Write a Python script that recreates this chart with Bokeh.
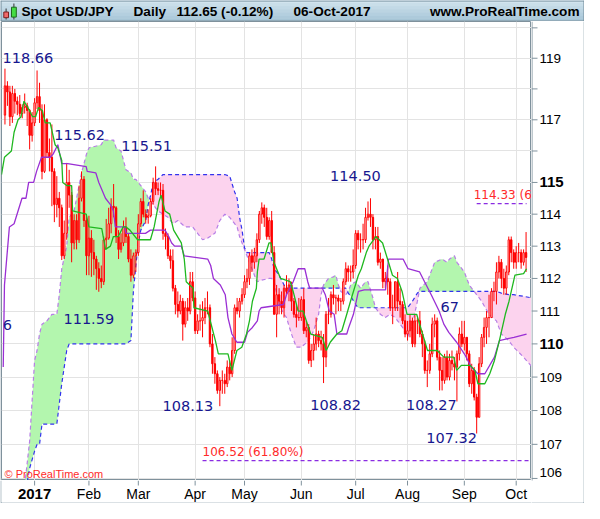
import numpy as np
from bokeh.plotting import figure
from bokeh.layouts import column, row
from bokeh.models import Range1d, FixedTicker, Label
from bokeh.embed import file_html
from bokeh.resources import INLINE
from bokeh.core.properties import value

# ---------------- data (day index 0 = 2-Jan-2017, trading days) ----------------
FIRST_DAY = -12   # first candle = 15-Dec-2016

opens = [
    # Dec 2016
    117.15, 118.10, 117.90, 117.10, 117.85, 117.60, 117.50, 117.20, 117.40, 117.45, 117.30, 116.50,
    # Jan
    116.90, 117.55, 117.75, 117.30, 115.35, 117.00, 115.95, 115.80, 115.35, 114.30, 114.50, 114.20,
    112.70, 113.40, 115.00, 114.60, 113.10, 113.80, 113.20, 114.50, 115.10, 113.80,
    # Feb
    112.70, 113.25, 112.80, 112.60, 112.30, 112.00, 111.90, 113.20, 113.25, 113.70, 114.25, 114.20,
    113.30, 112.90, 113.10, 113.60, 113.30, 112.60, 112.10, 112.70,
    # Mar
    112.80, 113.70, 114.40, 114.00, 113.90, 113.95, 114.40, 115.00, 114.80, 114.75, 114.75, 113.40,
    113.30, 112.70, 112.55, 111.70, 111.20, 111.00, 111.30, 110.60, 111.10, 111.00, 111.90,
    # Apr
    111.40, 110.40, 110.70, 110.70, 110.80, 111.10, 111.10, 110.00, 109.40, 109.10, 108.60, 108.90,
    108.90, 108.80, 109.30, 109.10, 109.80, 111.10, 111.00, 111.30,
    # May
    111.50, 111.90, 112.00, 112.70, 112.50, 112.70, 113.20, 114.00, 114.20, 113.90, 113.30, 113.80,
    112.80, 110.90, 111.50, 111.30, 111.10, 111.70, 111.60, 111.80, 111.30, 110.90, 110.80,
    # Jun
    110.80, 111.35, 110.40, 110.50, 109.50, 109.80, 110.00, 110.30, 110.10, 110.00, 109.60, 110.90,
    110.90, 111.50, 111.40, 111.40, 111.30, 111.30, 111.90, 112.30, 112.20, 112.20,
    # Jul
    112.40, 113.40, 113.20, 113.20, 113.20, 113.90, 114.00, 113.90, 113.20, 113.30, 112.50, 112.60,
    111.90, 112.00, 111.90, 111.10, 111.10, 111.90, 111.30, 111.20, 110.70,
    # Aug
    110.30, 110.40, 110.70, 110.00, 110.70, 110.70, 110.30, 110.00, 109.20, 109.20, 109.70, 110.60,
    110.70, 109.60, 109.20, 108.90, 109.60, 109.00, 109.50, 109.40, 109.30, 109.70, 110.30,
    # Sep
    110.00, 110.20, 109.70, 108.80, 109.20, 108.40, 107.80, 109.40, 110.20, 110.50, 110.80, 110.80,
    111.60, 111.60, 112.20, 112.50, 112.00, 111.70, 112.20, 113.20, 112.80,
    # Oct
    112.50, 112.80, 112.80, 112.50, 112.80,
]
highs = [
    118.66, 118.25, 118.10, 118.10, 118.00, 117.75, 117.80, 117.50, 117.85, 117.55, 117.35, 117.25,
    117.70, 118.60, 118.20, 117.50, 117.50, 117.05, 116.40, 116.85, 115.45, 115.20, 114.70, 114.30,
    113.80, 115.62, 115.40, 114.70, 114.00, 114.00, 114.90, 115.35, 115.20, 114.00,
    113.95, 113.50, 113.20, 112.70, 112.50, 112.40, 113.30, 113.85, 114.20, 114.50, 114.95, 114.25,
    113.50, 113.40, 113.80, 113.90, 113.40, 112.90, 112.80, 112.90,
    114.00, 114.50, 114.75, 114.15, 114.15, 114.50, 115.15, 115.51, 115.00, 115.00, 114.95, 113.55,
    113.40, 112.90, 112.90, 111.80, 111.60, 111.50, 111.40, 111.30, 111.40, 112.20, 112.20,
    111.60, 110.90, 111.20, 111.30, 111.40, 111.60, 111.20, 110.30, 109.60, 109.20, 109.00, 109.20,
    109.10, 109.50, 109.50, 110.20, 111.20, 111.40, 111.40, 111.70,
    112.10, 112.30, 112.80, 112.90, 112.95, 113.40, 114.10, 114.37, 114.30, 114.20, 113.90, 114.10,
    113.00, 111.80, 111.70, 111.60, 111.80, 112.10, 112.00, 111.90, 111.40, 111.20, 111.40,
    111.45, 111.70, 110.70, 110.60, 110.00, 110.30, 110.80, 110.40, 110.40, 110.30, 111.00, 111.40,
    111.60, 111.80, 111.50, 111.50, 111.40, 112.00, 112.50, 112.40, 112.40, 112.90,
    113.50, 113.50, 113.40, 113.70, 114.20, 114.40, 114.50, 114.00, 113.60, 113.60, 112.80, 112.60,
    112.20, 112.40, 112.00, 111.50, 111.90, 112.20, 111.70, 111.30, 110.90,
    110.70, 110.90, 110.80, 110.90, 110.80, 111.00, 110.40, 110.10, 109.50, 110.00, 110.80, 110.90,
    110.80, 109.80, 109.60, 109.70, 109.80, 109.70, 109.80, 109.60, 109.80, 110.50, 110.70,
    110.70, 110.20, 109.80, 109.40, 109.30, 108.50, 109.60, 110.30, 110.80, 111.00, 111.50, 111.70,
    111.90, 112.50, 112.70, 112.60, 112.30, 112.40, 113.30, 113.30, 112.90,
    113.00, 113.10, 112.90, 112.90, 113.44,
]
lows = [
    116.85, 117.45, 116.80, 116.90, 117.20, 117.15, 117.10, 117.05, 117.20, 116.80, 116.05, 116.30,
    116.80, 117.35, 116.90, 115.10, 115.30, 115.80, 115.35, 114.25, 113.75, 113.90, 113.60, 112.57,
    112.60, 113.20, 114.20, 112.50, 112.90, 112.90, 113.10, 114.40, 113.60, 112.10,
    112.10, 112.05, 112.10, 111.65, 111.59, 111.70, 111.80, 112.90, 113.20, 113.40, 113.90, 113.10,
    112.60, 112.80, 113.00, 113.10, 112.50, 111.90, 112.00, 112.20,
    112.70, 113.60, 113.90, 113.70, 113.70, 113.90, 114.30, 114.60, 114.60, 114.50, 113.20, 112.90,
    112.60, 112.30, 111.60, 110.90, 110.80, 110.90, 110.10, 110.50, 110.70, 110.90, 111.30,
    110.30, 110.30, 110.40, 110.20, 110.60, 110.90, 109.90, 109.10, 108.80, 108.50, 108.13, 108.50,
    108.50, 108.70, 108.90, 109.00, 109.70, 110.90, 110.80, 111.20,
    111.40, 111.70, 111.80, 112.20, 112.30, 112.50, 113.10, 113.70, 113.60, 113.20, 113.20, 112.80,
    110.90, 110.20, 110.90, 110.90, 110.80, 111.50, 111.30, 111.00, 110.80, 110.50, 110.70,
    110.70, 110.30, 110.20, 109.40, 109.30, 109.50, 109.80, 109.90, 109.80, 108.82, 109.30, 110.60,
    110.80, 111.20, 110.90, 111.00, 111.00, 111.20, 111.80, 111.90, 111.90, 112.00,
    112.30, 112.90, 112.80, 112.90, 113.10, 113.80, 113.60, 112.90, 112.90, 112.40, 112.30, 111.70,
    111.70, 111.50, 111.00, 110.60, 111.00, 111.00, 110.80, 110.60, 110.20,
    110.10, 110.20, 109.90, 109.90, 110.30, 110.20, 109.60, 109.10, 108.70, 109.10, 109.60, 110.20,
    109.50, 108.60, 108.60, 108.80, 108.90, 108.90, 109.20, 108.90, 108.27, 109.50, 109.90,
    109.80, 109.50, 108.70, 108.50, 108.30, 107.32, 107.80, 109.30, 109.90, 110.00, 110.20, 110.80,
    111.30, 111.20, 112.00, 111.70, 111.50, 111.50, 112.10, 112.50, 112.30,
    112.30, 112.50, 112.30, 112.40, 112.20,
]
closes = [
    118.10, 117.90, 117.10, 117.85, 117.60, 117.50, 117.20, 117.40, 117.45, 117.30, 116.50, 116.90,
    117.55, 117.75, 117.30, 115.35, 117.00, 115.95, 115.80, 115.35, 114.30, 114.50, 114.20, 112.70,
    113.40, 115.00, 114.60, 113.10, 113.80, 113.20, 114.50, 115.10, 113.80, 112.70,
    113.25, 112.80, 112.60, 112.30, 112.00, 111.90, 113.20, 113.25, 113.70, 114.25, 114.20, 113.30,
    112.90, 113.10, 113.60, 113.30, 112.60, 112.10, 112.70, 112.80,
    113.70, 114.40, 114.00, 113.90, 113.95, 114.40, 115.00, 114.80, 114.75, 114.75, 113.40, 113.30,
    112.70, 112.55, 111.70, 111.20, 111.00, 111.30, 110.60, 111.10, 111.00, 111.90, 111.40,
    110.40, 110.70, 110.70, 110.80, 111.10, 111.10, 110.00, 109.40, 109.10, 108.60, 108.90, 108.90,
    108.80, 109.30, 109.10, 109.80, 111.10, 111.00, 111.30, 111.50,
    111.90, 112.00, 112.70, 112.50, 112.70, 113.20, 114.00, 114.20, 113.90, 113.30, 113.80, 112.80,
    110.90, 111.50, 111.30, 111.10, 111.70, 111.60, 111.80, 111.30, 110.90, 110.80, 110.80,
    111.35, 110.40, 110.50, 109.50, 109.80, 110.00, 110.30, 110.10, 110.00, 109.60, 110.90, 110.90,
    111.50, 111.40, 111.40, 111.30, 111.30, 111.90, 112.30, 112.20, 112.20, 112.40,
    113.40, 113.20, 113.20, 113.20, 113.90, 114.00, 113.90, 113.20, 113.30, 112.50, 112.60, 111.90,
    112.00, 111.90, 111.10, 111.10, 111.90, 111.30, 111.20, 110.70, 110.30,
    110.40, 110.70, 110.00, 110.70, 110.70, 110.30, 110.00, 109.20, 109.20, 109.70, 110.60, 110.70,
    109.60, 109.20, 108.90, 109.60, 109.00, 109.50, 109.40, 109.30, 109.70, 110.30, 110.00,
    110.20, 109.70, 108.80, 109.20, 108.40, 107.80, 109.40, 110.20, 110.50, 110.80, 110.80, 111.60,
    111.60, 112.20, 112.50, 112.00, 111.70, 112.20, 113.20, 112.80, 112.50,
    112.80, 112.80, 112.50, 112.80, 112.65,
]

# Tenkan-sen (green)
tenkan_day = [-13.4, -12.2, -9.4, -8.3, -6.7, -5.5, -4.3, -2.8, -0.8, 0.4, 1.6, 3.1, 4.3, 6.3, 8.3, 9.4,
              11.0, 11.4, 13.0, 15.0, 15.4, 20.9, 22.0, 27.2, 28.7, 30.7, 31.9, 33.9, 35.8, 37.0, 38.6,
              41.7, 44.9, 46.9, 48.4, 50.4, 51.2, 52.8, 54.7, 56.3, 59.4, 60.6, 61.4, 64.2, 64.5, 70.1,
              71.3, 73.2, 74.4, 78.3, 79.9, 81.9, 83.9, 85.8, 87.0, 88.2, 89.8, 90.2, 90.9, 92.9, 94.9,
              95.7, 96.9, 99.6, 103.5, 104.7, 106.7, 108.7, 111.8, 116.5, 118.1, 119.7, 122.4, 124.4,
              126.4, 128.3, 131.1, 132.3, 134.3, 135.4, 138.2, 140.9, 142.9, 144.9, 146.9, 148.8, 150.8,
              154.7, 156.7, 159.1, 163.0, 165.7, 169.7, 170.9, 172.8, 176.4, 178.3, 179.5, 182.3, 184.3,
              186.2, 188.2, 190.6, 192.1, 194.5, 198.0, 199.2]
tenkan_val = [115.25, 115.8, 116.0, 116.6, 117.0, 117.1, 117.6, 117.4, 117.1, 117.1, 117.4, 117.3, 116.9,
              116.9, 116.2, 116.1, 115.7, 115.0, 114.9, 114.9, 114.1, 114.0, 113.6, 113.55, 112.9, 113.0,
              113.3, 113.3, 113.6, 113.6, 113.5, 113.2, 113.2, 113.2, 113.6, 114.4, 114.6, 114.1, 114.0,
              113.5, 113.1, 112.6, 111.9, 111.7, 111.1, 111.0, 110.65, 110.1, 109.7, 109.7, 109.2, 109.8,
              109.9, 110.3, 110.7, 111.3, 111.7, 112.2, 112.6, 112.6, 113.1, 113.1, 112.5, 112.0, 111.9,
              111.6, 111.0, 111.0, 110.3, 110.2, 109.8, 110.05, 110.3, 110.4, 110.9, 111.4, 112.1, 112.3,
              112.8, 113.0, 113.3, 113.1, 112.6, 112.1, 112.0, 111.6, 110.9, 110.9, 110.4, 109.8, 109.8,
              109.6, 109.6, 109.2, 109.35, 109.35, 109.2, 108.8, 108.8, 109.1, 109.5, 110.1, 110.9, 111.3,
              112.1, 112.15, 112.3]

# Kijun-sen (purple)
kijun_day = [-12.7, -12.2, -10.2, -8.3, -6.7, -5.1, -3.5, -2.4, -0.4, 0.8, 2.8, 6.3, 7.5, 9.4, 11.0, 13.4,
             20.9, 21.3, 24.8, 26.0, 28.7, 30.7, 31.9, 32.7, 36.6, 37.0, 44.9, 46.9, 52.8, 54.3, 55.5,
             56.7, 59.4, 60.6, 70.1, 71.3, 72.4, 75.2, 77.2, 78.3, 79.9, 81.9, 85.0, 86.2, 88.2, 90.2,
             90.9, 91.7, 100.8, 102.0, 104.7, 106.7, 109.4, 110.6, 111.4, 116.5, 117.7, 119.3, 121.3,
             122.4, 126.4, 127.2, 129.1, 131.1, 133.5, 142.1, 143.3, 149.2, 151.2, 155.9, 157.9, 160.6,
             163.8, 165.7, 167.7, 170.9, 174.4, 176.8, 179.5, 182.3, 186.2, 188.2, 194.1, 199.2]
kijun_val = [109.3, 111.8, 113.6, 113.7, 114.1, 114.5, 114.5, 115.0, 115.0, 115.35, 115.8, 115.8, 115.9,
             116.2, 115.6, 115.6, 115.5, 115.35, 115.3, 115.0, 114.5, 114.3, 114.1, 113.6, 113.6, 113.4,
             113.4, 113.5, 113.5, 113.3, 113.1, 113.0, 113.0, 112.7, 112.6, 112.4, 112.0, 111.8, 111.5,
             110.8, 110.3, 110.05, 110.05, 110.35, 110.5, 110.7, 111.0, 111.1, 111.2, 111.5, 111.9,
             112.3, 112.3, 111.9, 111.7, 111.7, 111.5, 111.0, 110.9, 110.3, 110.3, 110.5, 110.9, 111.6,
             111.65, 111.65, 112.6, 112.6, 112.3, 112.2, 111.9, 111.5, 111.0, 110.6, 110.35, 110.05,
             109.65, 109.3, 109.1, 109.1, 109.6, 110.1, 110.2, 110.3]

# Cloud: Senkou span A (purple dashed) and span B (blue dashed)
cloud_day = [-4, -2, 0, 1, 2, 3, 5, 7, 9, 10, 11, 13, 14, 16, 19, 21, 22, 27, 28, 32, 33, 35, 37, 39,
             40, 41, 42, 43, 45, 46, 47, 48, 50, 52, 54, 56, 58, 61, 64, 66, 68, 70, 73, 75, 77, 79, 81,
             82, 83, 84, 85, 86, 88, 90, 92, 95, 96, 97, 99, 101, 102, 104, 106, 108, 111, 113, 115,
             116, 117, 119, 121, 122, 123, 124, 126, 127, 128, 130, 131, 132, 134, 135, 137, 138, 140,
             142, 144, 146, 149, 151, 153, 155, 156, 159, 162, 165, 167, 168, 170, 171, 172, 174, 176,
             178, 181, 184, 187, 189, 192, 194, 198, 201.5]
span_a = [105.8, 107.1, 109.5, 109.8, 110.3, 110.6, 110.7, 110.9, 110.9, 111.5, 112.3, 113.0, 113.9,
          114.1, 115.3, 115.9, 116.1, 116.2, 116.35, 116.35, 116.1, 116.0, 115.4, 115.3, 115.1, 115.1,
          115.0, 114.9, 114.7, 114.5, 114.4, 114.3, 114.1, 114.0, 113.9, 113.7, 113.8, 113.6, 113.6,
          113.4, 113.2, 113.25, 113.4, 113.8, 114.0, 113.9, 113.7, 113.6, 113.3, 113.1, 112.9, 112.7,
          112.3, 111.9, 111.95, 112.0, 112.0, 111.9, 111.2, 110.9, 110.8, 110.3, 109.9, 109.9, 110.1,
          110.4, 110.9, 111.5, 111.8, 112.0, 112.05, 112.1, 111.8, 111.6, 111.5, 111.6, 111.8, 111.9,
          111.8, 111.7, 111.9, 111.9, 111.4, 111.1, 110.9, 110.8, 110.9, 110.8, 110.5, 110.2, 110.6,
          111.3, 111.7, 111.9, 112.5, 112.6, 112.5, 112.6, 112.7, 112.5, 112.4, 112.2, 111.8, 111.6,
          111.3, 110.9, 110.7, 110.3, 110.1, 109.9, 109.6, 109.3]
span_b = [105.5, 106.3, 106.8, 107.0, 107.0, 107.6, 107.6, 107.6, 107.6, 108.2, 108.8, 109.8, 110.0,
          110.0, 110.0, 110.0, 110.0, 110.0, 110.0, 110.0, 110.0, 110.0, 110.0, 110.1, 111.6, 112.4,
          113.1, 113.5, 113.8, 114.3, 114.6, 115.0, 115.1, 115.25, 115.25, 115.25, 115.25, 115.25,
          115.25, 115.25, 115.25, 115.25, 115.25, 115.25, 115.25, 115.2, 114.7, 114.5, 113.9, 113.5,
          112.95, 112.8, 112.8, 112.8, 112.8, 112.8, 112.6, 112.3, 112.1, 111.8, 111.7, 111.7, 111.7,
          111.7, 111.7, 111.7, 111.7, 111.7, 111.7, 111.7, 111.7, 111.7, 111.7, 111.7, 111.7, 111.55,
          111.45, 111.2, 111.1, 111.1, 111.1, 111.1, 111.1, 111.1, 111.1, 111.1, 111.1, 111.1, 111.1,
          111.1, 111.3, 111.55, 111.6, 111.6, 111.6, 111.6, 111.6, 111.6, 111.6, 111.6, 111.6, 111.6,
          111.6, 111.6, 111.6, 111.6, 111.6, 111.55, 111.5, 111.5, 111.45, 111.4]

# Swing high/low labels
label_text = ["118.66", "115.62", "115.51", "111.59", "114.50", "108.13", "108.82", "108.27", "107.32"]
label_day = [-12, 13, 49, 26, 136, 75, 117, 172, 179]
label_price = [118.66, 115.62, 115.51, 111.59, 114.50, 108.13, 108.82, 108.27, 107.32]

# Fibonacci levels (the second caption is cut by the chart edge in the original)
fib_level = [106.52, 114.33]
fib_start = [68, 179]
fib_end = [201.5, 199.2]
fib_text = ["106.52 (61.80%)", "114.33 (6"]

# Axes
month_day = [0, 22, 42, 65, 85, 108, 130, 151, 174, 195]
month_name = ["2017", "Feb", "Mar", "Apr", "May", "Jun", "Jul", "Aug", "Sep", "Oct"]
month_bold = [True, False, False, False, False, False, False, False, False, False]
price_ticks = list(range(106, 121))
price_labelled = [106, 107, 108, 109, 110, 111, 112, 113, 114, 115, 117, 119]
price_bold = [110, 115]

# ---------------- styling ----------------
W = 584
H_TITLE = 21
FRAME_W = 530
FRAME_H = 459
AX_W = 53
AX_H = 23
X_RANGE = (-13.4, 201.2)
Y_RANGE = (105.94, 120.21)
NAVY = "#17178f"
RED = "#ff0000"
GRID = "#e3e3e3"
AXIS = "#7f919c"
BORDER = "#6f8896"
FONT_LAB = value("DejaVu Sans")
FONT_AX = value("Liberation Sans")

# ---- title bar ----
tf = figure(width=W, height=H_TITLE, x_range=Range1d(0, W), y_range=Range1d(0, H_TITLE),
            toolbar_location=None, output_backend="svg", x_axis_location=None,
            y_axis_location=None, min_border=0)
tf.grid.visible = False
tf.outline_line_color = None
tf.background_fill_color = "#b9d3e0"
stripes = ["#a6c5d6", "#adcadb", "#b4cfdf", "#bbd4e2", "#c2d9e6", "#c9dee9", "#d2e4ee"]
sh = H_TITLE / len(stripes)
tf.quad(left=0, right=W, bottom=[k * sh for k in range(len(stripes))],
        top=[(k + 1) * sh for k in range(len(stripes))], fill_color=stripes, line_color=None)
tf.segment(x0=[0, 0, 0.5, W - 0.5], y0=[0.5, H_TITLE - 0.5, 0, 0], x1=[W, W, 0.5, W - 0.5],
           y1=[0.5, H_TITLE - 0.5, H_TITLE, H_TITLE], line_color=[AXIS, BORDER, BORDER, BORDER],
           line_width=1)
# icon
tf.segment(x0=[5.6, 13.4], y0=[2, 2], x1=[5.6, 13.4], y1=[13, 18], line_color="#333333", line_width=1)
tf.quad(left=[3.3, 11.0], right=[8.0, 15.8], bottom=[3.8, 4.4], top=[9.5, 14.3],
        fill_color=["#f06a6a", "#44dd44"], line_color=["#7a2020", "#1f6b1f"], line_width=1)
tf.text(x=[21, 133, 176, 293], y=[10.5] * 4,
        text=["Spot USD/JPY", "Daily", "112.65 (-0.12%)", "06-Oct-2017"],
        text_align="left", text_baseline="middle", text_font=FONT_AX,
        text_font_style="bold", text_font_size="13.6px", text_color="black")
tf.text(x=[579], y=[10.5], text=["www.ProRealTime.com"], text_align="right", text_baseline="middle",
        text_font=FONT_AX, text_font_style="bold", text_font_size="13.6px", text_color="black")

# ---- main chart frame ----
p = figure(width=FRAME_W + 1, height=FRAME_H, x_range=Range1d(*X_RANGE), y_range=Range1d(*Y_RANGE),
           y_axis_type="log", x_axis_location=None, y_axis_location=None,
           toolbar_location=None, output_backend="svg",
           min_border_left=1, min_border_right=0, min_border_top=0, min_border_bottom=0)
p.background_fill_color = "white"
p.border_fill_color = BORDER
p.outline_line_color = AXIS
p.xgrid.ticker = FixedTicker(ticks=month_day)
p.ygrid.ticker = FixedTicker(ticks=price_ticks)
p.grid.grid_line_color = GRID
p.grid.grid_line_width = 1

# cloud
a = np.array(span_a)
b = np.array(span_b)
top = np.maximum(a, b)
p.varea(x=cloud_day, y1=b, y2=top, fill_color="#b3f6ae", fill_alpha=1.0)
p.varea(x=cloud_day, y1=a, y2=top, fill_color="#fcd3ee", fill_alpha=1.0)
p.line(cloud_day, span_a, line_color="#b77ee6", line_width=1.2, line_dash="4 3")
p.line(cloud_day, span_b, line_color="#3333ee", line_width=1.2, line_dash="4 3")

# fibonacci levels
p.segment(x0=fib_start, y0=fib_level, x1=fib_end, y1=fib_level, line_color="#8a2be2",
          line_width=1.2, line_dash="4 3")
p.text(x=fib_start, y=fib_level, text=fib_text, text_align="left", text_baseline="bottom",
       x_offset=[0, -3], y_offset=-2, text_font=FONT_LAB, text_font_size="12px",
       text_color="#ff2a2a")

# candles
days = np.arange(len(closes)) + FIRST_DAY
o = np.array(opens)
c = np.array(closes)
p.segment(x0=days, y0=lows, x1=days, y1=highs, line_color=RED, line_width=1)
body_fill = [("white" if cc > oo else RED) for oo, cc in zip(opens, closes)]
p.vbar(x=days, top=np.maximum(o, c), bottom=np.minimum(o, c), width=0.55,
       fill_color=body_fill, line_color=RED, line_width=1)

# indicator lines
p.line(kijun_day, kijun_val, line_color="#9a2fd4", line_width=1.3)
p.line(tenkan_day, tenkan_val, line_color="#1fb81f", line_width=1.3)

# swing labels
label_dx = [23, 13, -9, -10, -15, -32, 12, -28, -25]
label_dy = [-11, -28, -20, 27, -22, 0, 22, 4, 5]
p.text(x=label_day, y=label_price, text=label_text, x_offset=label_dx, y_offset=label_dy,
       text_align="center", text_baseline="middle", text_font=FONT_LAB,
       text_font_size="14.5px", text_color=NAVY)
p.add_layout(Label(x=168.1, y=111.13, text="67", text_font="DejaVu Sans", text_font_size="14.5px",
                   text_color=NAVY, text_align="center", text_baseline="middle"))
p.add_layout(Label(x=-11.0, y=110.57, text="6", text_font="DejaVu Sans", text_font_size="14.5px",
                   text_color=NAVY, text_align="center", text_baseline="middle"))
p.add_layout(Label(x=3, y=1, x_units="screen", y_units="screen", text="\u00a9 ProRealTime.com",
                   text_font="Liberation Sans", text_font_size="11px", text_color="#ff2a2a",
                   text_baseline="bottom", text_align="left"))

# ---- price axis (right) ----
# same log mapping as the main frame, extended down over the date-axis strip
ln_per_px = (np.log(Y_RANGE[1]) - np.log(Y_RANGE[0])) / FRAME_H
y_ax_low = float(np.exp(np.log(Y_RANGE[0]) - (AX_H - 1) * ln_per_px))
ya = figure(width=AX_W, height=FRAME_H + AX_H, x_range=Range1d(0, AX_W - 1),
            y_range=Range1d(y_ax_low, Y_RANGE[1]), y_axis_type="log",
            x_axis_location=None, y_axis_location=None, toolbar_location=None,
            output_backend="svg", min_border_left=0, min_border_top=0,
            min_border_right=1, min_border_bottom=1)
ya.grid.visible = False
ya.outline_line_color = None
ya.border_fill_color = BORDER
ya.background_fill_color = "white"
ya.segment(x0=0.5, y0=Y_RANGE[0], x1=0.5, y1=Y_RANGE[1], line_color=AXIS, line_width=1)
ya.segment(x0=0, y0=price_ticks, x1=6, y1=price_ticks, line_color=AXIS, line_width=1)
norm = [t for t in price_labelled if t not in price_bold]
norm_dy = [(-6 if t == min(price_ticks) else 0) for t in norm]
ya.text(x=[8] * len(norm), y=norm, text=[str(t) for t in norm], y_offset=norm_dy,
        text_align="left", text_baseline="middle", text_font=FONT_AX, text_font_size="13.5px",
        text_color="black")
ya.text(x=[8] * len(price_bold), y=price_bold, text=[str(t) for t in price_bold],
        text_align="left", text_baseline="middle", text_font=FONT_AX, text_font_style="bold",
        text_font_size="15px", text_color="black")

# ---- date axis (bottom) ----
xa = figure(width=FRAME_W + 1, height=AX_H, x_range=p.x_range, y_range=Range1d(0, AX_H - 1),
            x_axis_location=None, y_axis_location=None, toolbar_location=None,
            output_backend="svg", min_border_left=1, min_border_top=0,
            min_border_right=0, min_border_bottom=1)
xa.grid.visible = False
xa.outline_line_color = None
xa.border_fill_color = BORDER
xa.background_fill_color = "white"
xa.segment(x0=month_day, y0=AX_H - 1, x1=month_day, y1=AX_H - 6, line_color=AXIS, line_width=1)
reg_d = [d for d, bld in zip(month_day, month_bold) if not bld]
reg_n = [n for n, bld in zip(month_name, month_bold) if not bld]
bld_d = [d for d, bld in zip(month_day, month_bold) if bld]
bld_n = [n for n, bld in zip(month_name, month_bold) if bld]
xa.text(x=reg_d, y=[9] * len(reg_d), text=reg_n, text_align="center", text_baseline="middle",
        text_font=FONT_AX, text_font_size="14px", text_color="black")
xa.text(x=bld_d, y=[9] * len(bld_d), text=bld_n, text_align="center", text_baseline="middle",
        text_font=FONT_AX, text_font_style="bold", text_font_size="15px", text_color="black")

layout = column(tf, row(column(p, xa, spacing=0), ya, spacing=0), spacing=0)
open("out.html", "w").write(file_html(layout, INLINE))
